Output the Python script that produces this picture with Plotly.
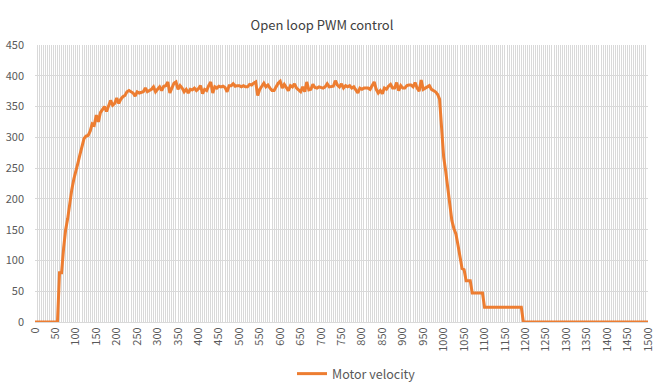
import plotly.graph_objects as go

time_steps = list(range(0, 1505, 5))

velocity = [
    # 0-55
    0, 0, 0, 0, 0, 0, 0, 0, 0, 0, 0, 0,
    # 60-115
    80, 80, 120, 150, 168, 195, 215, 232, 248, 258, 272, 285,
    # 120-175
    298, 302, 303, 310, 322, 320, 336, 325, 340, 345, 350, 342,
    # 180-235
    350, 360, 352, 355, 364, 355, 362, 366, 368, 374, 376, 374,
    # 240-295
    372, 367, 374, 372, 373, 374, 380, 374, 376, 378, 382, 374,
    # 300-355
    378, 382, 376, 383, 384, 390, 372, 381, 388, 390, 378, 384,
    # 360-415
    380, 374, 378, 372, 378, 377, 380, 376, 379, 384, 371, 378,
    # 420-475
    376, 384, 390, 372, 382, 380, 383, 382, 383, 381, 374, 384,
    # 480-535
    384, 387, 383, 384, 384, 382, 384, 382, 382, 386, 385, 388,
    # 540-595
    390, 368, 378, 383, 388, 382, 385, 380, 376, 376, 382, 388,
    # 600-655
    391, 380, 386, 381, 376, 384, 382, 387, 380, 377, 374, 382,
    # 660-715
    374, 390, 377, 378, 386, 381, 380, 382, 381, 380, 382, 387,
    # 720-775
    382, 382, 383, 392, 385, 382, 387, 380, 384, 382, 384, 380,
    # 780-835
    382, 377, 372, 380, 378, 380, 380, 380, 378, 385, 390, 378,
    # 840-895
    372, 376, 371, 380, 378, 383, 386, 380, 380, 389, 376, 384,
    # 900-955
    380, 380, 384, 385, 385, 382, 389, 380, 375, 393, 378, 380,
    # 960-1015
    382, 384, 378, 376, 374, 370, 362, 315, 268, 245, 220, 188,
    # 1020-1075
    165, 152, 143, 125, 104, 87, 85, 67, 67, 67, 47, 47,
    # 1080-1135
    47, 47, 47, 47, 24, 24, 24, 24, 24, 24, 24, 24,
    # 1140-1195
    24, 24, 24, 24, 24, 24, 24, 24, 24, 24, 24, 0,
    # 1200-1255
    0, 0, 0, 0, 0, 0, 0, 0, 0, 0, 0, 0,
    # 1260-1315
    0, 0, 0, 0, 0, 0, 0, 0, 0, 0, 0, 0,
    # 1320-1375
    0, 0, 0, 0, 0, 0, 0, 0, 0, 0, 0, 0,
    # 1380-1435
    0, 0, 0, 0, 0, 0, 0, 0, 0, 0, 0, 0,
    # 1440-1500
    0, 0, 0, 0, 0, 0, 0, 0, 0, 0, 0, 0, 0,
]

x_tick_values = list(range(0, 1550, 50))
y_tick_values = list(range(0, 500, 50))

FONT = "Noto Sans CJK JP"
TEXT = "#595959"
GRID = "#D9D9D9"
W, H = 658, 389

fig = go.Figure()
fig.add_trace(go.Scatter(
    x=time_steps, y=velocity, mode="lines", name="Motor velocity",
    line=dict(color="#ED7D31", width=3),
))

fig.update_layout(
    width=W, height=H,
    margin=dict(l=35, r=10, t=45, b=67, autoexpand=False),
    paper_bgcolor="white", plot_bgcolor="white",
    font=dict(family=FONT, color=TEXT, size=11),
    title=dict(text="Open loop PWM control", x=322 / W, xanchor="center",
               xref="container",
               y=1 - 25 / H, yanchor="middle", yref="container",
               font=dict(family=FONT, size=13, color="#404040")),
    showlegend=True,
    legend=dict(orientation="h", x=292 / W, xanchor="left", xref="container",
                yref="container", y=15 / H, yanchor="middle",
                font=dict(family=FONT, size=12.5, color=TEXT)),
    xaxis=dict(
        range=[0, 1500], tickmode="array", tickvals=x_tick_values,
        ticktext=[str(v) for v in x_tick_values], tickangle=-90,
        showgrid=True, gridcolor=GRID, gridwidth=1,
        minor=dict(dtick=5, tick0=0, showgrid=True, gridcolor=GRID, gridwidth=1),
        zeroline=False, showline=True, linecolor=GRID, ticks="",
        tickfont=dict(size=11, color=TEXT), automargin=False,
    ),
    yaxis=dict(
        range=[0, 450], tickmode="array", tickvals=y_tick_values,
        showgrid=True, gridcolor=GRID, gridwidth=1, zeroline=False,
        ticks="", tickfont=dict(size=11, color=TEXT), automargin=False,
        ticklabelstandoff=10,
    ),
)

fig.write_html("out.html", config={"displayModeBar": False},
               post_script="document.body.style.margin='0';")
